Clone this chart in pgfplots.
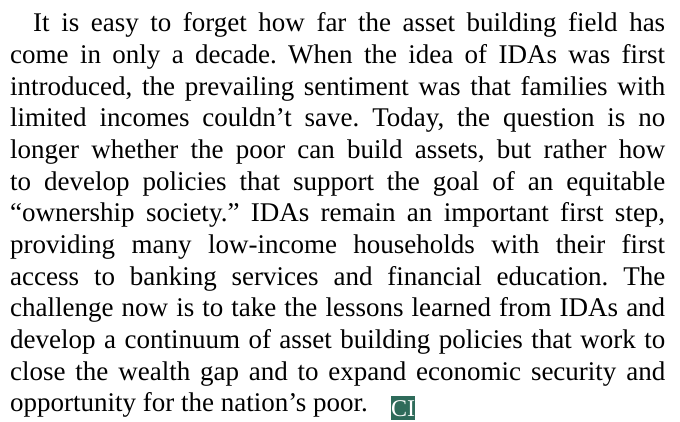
\documentclass[border=0pt]{standalone}
\usepackage{pgfplots}
\pgfplotsset{compat=1.18}
\usepackage{fontspec}
\setmainfont{Liberation Serif}
\definecolor{cigreen}{HTML}{2E6B5A}

\newcommand{\jline}[3]{% x, baseline y, text (justified)
  \node[anchor=base west, inner sep=0pt] at (axis cs:#1,#2)
    {\makebox[\dimexpr665pt-#1pt\relax][s]{#3}};}

\begin{document}
\frenchspacing
\begin{tikzpicture}
\begin{axis}[
    hide axis,
    scale only axis,
    width=680pt, height=421pt,
    xmin=0, xmax=680,
    ymin=0, ymax=421,
    y dir=reverse,
    clip=false,
]
\path (axis cs:0,0) rectangle (axis cs:680,421);
\fontsize{27}{31.7}\selectfont
\jline{33}{31.7}{It is easy to forget how far the asset building field has}
\jline{10}{63.3}{come in only a decade. When the idea of IDAs was first}
\jline{10}{95.0}{introduced, the prevailing sentiment was that families with}
\jline{10}{126.7}{limited incomes couldn’t save. Today, the question is no}
\jline{10}{158.3}{longer whether the poor can build assets, but rather how}
\jline{10}{190.0}{to develop policies that support the goal of an equitable}
\jline{10}{221.7}{“ownership society.” IDAs remain an important first step,}
\jline{10}{253.3}{providing many low-income households with their first}
\jline{10}{285.0}{access to banking services and financial education. The}
\jline{10}{316.7}{challenge now is to take the lessons learned from IDAs and}
\jline{10}{348.3}{develop a continuum of asset building policies that work to}
\jline{10}{380.0}{close the wealth gap and to expand economic security and}
\node[anchor=base west, inner sep=0pt] at (axis cs:10,411.7)
  {opportunity for the nation’s poor.};
\node[fill=cigreen, text=white, inner sep=0pt,
      minimum width=24pt, minimum height=24pt, anchor=north west]
  at (axis cs:391,396) {\fontsize{24}{24}\selectfont CI};
\end{axis}
\end{tikzpicture}
\end{document}
